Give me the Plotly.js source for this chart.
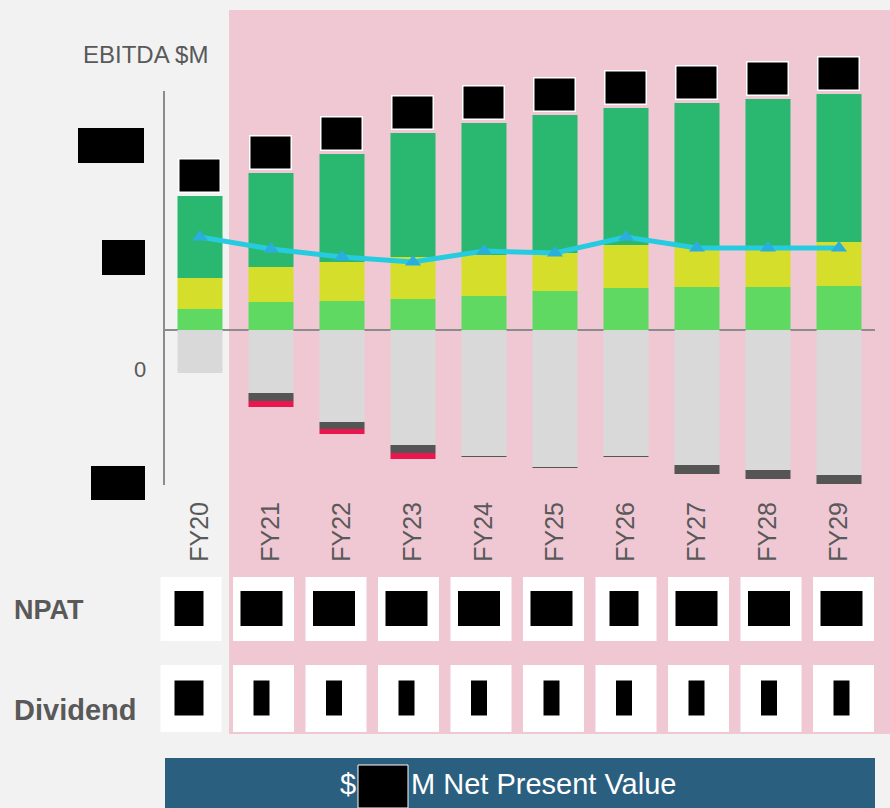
<!DOCTYPE html>
<html>
<head>
<meta charset="utf-8">
<script src="https://cdn.plot.ly/plotly-3.0.1.min.js"></script>
<style>
  html, body { margin: 0; padding: 0; background: #f2f2f2; }
  #plot { width: 890px; height: 808px; }
</style>
</head>
<body>
<div id="plot"></div>
<script>
// EBITDA build-up by year (arbitrary $M units)
const years = ['FY20', 'FY21', 'FY22', 'FY23', 'FY24', 'FY25', 'FY26', 'FY27', 'FY28', 'FY29'];
const baseEbitda = [21, 28, 29, 31, 34, 39, 42, 43, 43, 44];
const midEbitda = [31, 35, 39, 42, 41, 38, 43, 40, 40, 44];
const topEbitda = [82, 94, 108, 124, 132, 138, 137, 144, 148, 148];
const costsA = [-43, -63, -92, -115, -126, -137, -126, -135, -140, -145];
const costsB = [0, -8, -7, -8, -1, -1, -1, -9, -9, -9];
const costsC = [0, -6, -5, -6, 0, 0, 0, 0, 0, 0];
const lineValues = [93, 81, 73, 68, 79, 77, 93, 82, 82, 82];
// digit counts of the redacted numbers in the table rows
const npatDigits = [2, 3, 3, 3, 3, 3, 2, 3, 3, 3];
const dividendDigits = [2, 1, 1, 1, 1, 1, 1, 1, 1, 1];

const W = 890, H = 808;
const px = x => x / W;
const py = y => 1 - y / H;
const grey = '#595959';
const font = 'Liberation Sans, Arial, sans-serif';

function barTrace(values, color) {
    return {
        x: years,
        y: values,
        type: 'bar',
        marker: { color: color, line: { width: 0 } },
        hoverinfo: 'skip'
    };
}

const data = [
    barTrace(baseEbitda, '#5fd962'),
    barTrace(midEbitda, '#d6de2c'),
    barTrace(topEbitda, '#2ab870'),
    barTrace(costsA, '#d9d9d9'),
    barTrace(costsB, '#555555'),
    barTrace(costsC, '#e8184f'),
    {
        x: years,
        y: lineValues,
        type: 'scatter',
        mode: 'lines+markers',
        line: { color: '#27cbe0', width: 5 },
        marker: { symbol: 'triangle-up', size: 14, color: '#2aaedc' },
        hoverinfo: 'skip'
    }
];

const shapes = [];

// pink forecast band
shapes.push({
    type: 'rect', xref: 'paper', yref: 'paper', layer: 'below',
    x0: px(229), x1: 1, y0: py(734), y1: py(10),
    fillcolor: '#efc8d4', line: { width: 0 }
});

// redacted y tick labels
[[78, 128, 144, 163], [102, 240, 145, 275], [91, 466, 145, 500]].forEach(b => {
    shapes.push({
        type: 'rect', xref: 'paper', yref: 'paper',
        x0: px(b[0]), x1: px(b[2]), y0: py(b[3]), y1: py(b[1]),
        fillcolor: '#000000', line: { width: 0 }
    });
});

// NPAT / Dividend cells
const cellStart = 191, cellStep = 72.5, cellW = 61;
function tableRow(digits, top, bottom) {
    digits.forEach((n, i) => {
        const c = cellStart + i * cellStep;
        shapes.push({
            type: 'rect', xref: 'paper', yref: 'paper',
            x0: px(c - cellW / 2), x1: px(c + cellW / 2), y0: py(bottom), y1: py(top),
            fillcolor: '#ffffff', line: { width: 0 }
        });
        const w = 13 * n + 3;
        const mid = (top + bottom) / 2;
        shapes.push({
            type: 'rect', xref: 'paper', yref: 'paper',
            x0: px(c - 2 - w / 2), x1: px(c - 2 + w / 2), y0: py(mid + 17), y1: py(mid - 18),
            fillcolor: '#000000', line: { width: 0 }
        });
    });
}
tableRow(npatDigits, 577, 641);
tableRow(dividendDigits, 665, 732);

// NPV banner
shapes.push({
    type: 'rect', xref: 'paper', yref: 'paper',
    x0: px(165), x1: px(875), y0: 0, y1: py(758),
    fillcolor: '#2b5f80', line: { width: 0 }
});
shapes.push({
    type: 'rect', xref: 'paper', yref: 'paper',
    x0: px(358), x1: px(408), y0: 0, y1: py(765),
    fillcolor: '#000000', line: { color: '#ffffff', width: 1 }
});

const annotations = [
    { text: 'EBITDA $M', x: px(145), y: py(55), font: { size: 24, color: grey, family: font } },
    { text: '0', x: px(140), y: py(370), font: { size: 22, color: grey, family: font } },
    { text: '<b>NPAT</b>', x: px(12), y: py(610), xanchor: 'left', font: { size: 27, color: grey, family: font } },
    { text: '<b>Dividend</b>', x: px(12), y: py(710), xanchor: 'left', font: { size: 29, color: grey, family: font } },
    { text: '$', x: px(358), y: py(784), xanchor: 'right', font: { size: 29, color: '#ffffff', family: font } },
    { text: 'M Net Present Value', x: px(409), y: py(784), xanchor: 'left', font: { size: 29, color: '#ffffff', family: font } }
].map(a => Object.assign({ xref: 'paper', yref: 'paper', showarrow: false, xanchor: 'center', yanchor: 'middle' }, a));

// redacted value boxes on top of each bar (annotations are not clipped)
years.forEach((yr, i) => {
    annotations.push({
        xref: 'x', yref: 'y', x: i, y: baseEbitda[i] + midEbitda[i] + topEbitda[i],
        xanchor: 'center', yanchor: 'bottom', yshift: 3, xshift: -1,
        text: '&nbsp;', showarrow: false, width: 40, height: 32,
        bgcolor: '#000000', bordercolor: '#ffffff', borderwidth: 1.5, borderpad: 0
    });
});

const layout = {
    width: W,
    height: H,
    margin: { l: 0, r: 0, t: 0, b: 0 },
    paper_bgcolor: '#f2f2f2',
    plot_bgcolor: 'rgba(0,0,0,0)',
    showlegend: false,
    barmode: 'relative',
    bargap: 0.366,
    xaxis: {
        domain: [px(164.5), px(874.5)],
        type: 'category',
        range: [-0.5, 9.5],
        showgrid: false,
        showline: false,
        zeroline: false,
        tickangle: -90,
        ticks: 'outside',
        ticklen: 6,
        tickcolor: 'rgba(0,0,0,0)',
        tickfont: { size: 25, color: grey, family: 'Liberation Sans Narrow, ' + font }
    },
    yaxis: {
        domain: [py(485), py(91)],
        range: [-155, 239],
        showgrid: false,
        showticklabels: false,
        showline: true,
        linecolor: '#8c8c8c',
        linewidth: 2,
        zeroline: true,
        zerolinecolor: '#8c8c8c',
        zerolinewidth: 2
    },
    shapes: shapes,
    annotations: annotations
};

Plotly.newPlot('plot', data, layout, { staticPlot: true });
</script>
</body>
</html>
